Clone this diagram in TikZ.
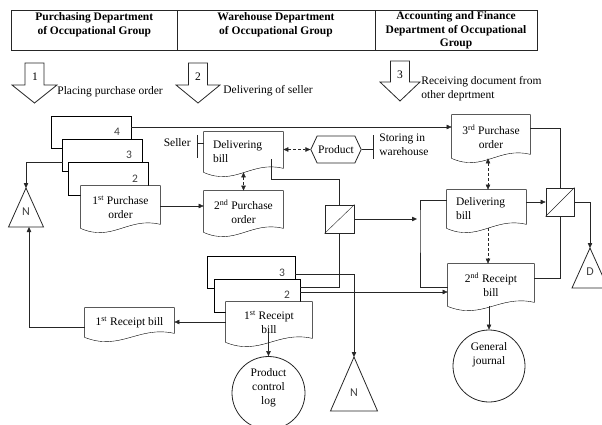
\documentclass[tikz,border=0pt]{standalone}
\usepackage{fontspec}
\setmainfont{Liberation Serif}
\newfontfamily\numfont{Carlito}
\usetikzlibrary{shapes.geometric,shapes.symbols,arrows.meta,calc}
\pgfdeclarelayer{bg}
\pgfsetlayers{bg,main}
\newcommand\docpath[1]{%
  \draw[fill=white] (#1.north west) -- (#1.north east) -- ($(#1.south east)+(0,-4)$)
   .. controls ($(#1.south west)!0.6!(#1.south east)+(0,-12)$) and ($(#1.south west)!0.4!(#1.south east)+(0,14)$) .. (#1.south west) -- cycle;}
\newcommand\boxpath[1]{\draw[fill=white] (#1.north west) rectangle (#1.south east);}
\begin{document}
\begin{tikzpicture}[x=1pt,y=-1pt,
  font=\fontsize{11.5}{14}\selectfont,
  line width=0.8pt, draw=black!85,
  dn/.style 2 args={inner sep=0pt, align=center, minimum width=#1, minimum height=#2},
  num/.style={font=\numfont\fontsize{11.5}{14}\selectfont, text=black!75, inner sep=0pt},
  tlet/.style={font=\numfont\fontsize{12}{14}\selectfont, text=black!75, inner sep=0pt},
  arr/.style={-{Triangle[length=5pt,width=4.5pt]}},
  dsh/.style={densely dashed, {Triangle[length=5pt,width=4.5pt]}-{Triangle[length=5pt,width=4.5pt]}},
  dsh1/.style={densely dashed, -{Triangle[length=5pt,width=4.5pt]}},
  coll/.style={draw, fill=white, inner sep=0pt},
  cell/.style={draw, inner sep=0pt, minimum height=39.4pt},
  hdr/.style={font=\bfseries\fontsize{11.5}{13.5}\selectfont, align=center, inner sep=0pt},
  lbl/.style={inner sep=0pt, align=left, anchor=west}
]
\useasboundingbox (0,0) rectangle (602,425);
\clip (0,0) rectangle (602,425);

% header table
\node[cell, minimum width=165.4pt] (col1) at (94.3,30.3) {};
\node[cell, minimum width=198pt] (col2) at (276,30.3) {};
\node[cell, minimum width=162pt] (col3) at (456,30.3) {};
\node[hdr] (h1) at (94.3,24.5) {Purchasing Department\\of Occupational Group};
\node[hdr] (h2) at (276,24.5) {Warehouse Department\\of Occupational Group};
\node[hdr] (h3) at (456,30.5) {Accounting and Finance\\Department of Occupational\\Group};

% block arrows
\draw (25,63) -- (44,63) -- (44,85) -- (57,85) -- (34.5,103) -- (12,85) -- (25,85) -- cycle;
\node[inner sep=0pt] (a1) at (35,77) {1};
\node[lbl] (l1) at (57,92) {Placing purchase order};
\draw (188.5,63) -- (207.5,63) -- (207.5,85) -- (220,85) -- (198,103) -- (176,85) -- (188.5,85) -- cycle;
\node[inner sep=0pt] (a2) at (198,77) {2};
\node[lbl] (l2) at (223,91) {Delivering of seller};
\draw (390.5,61) -- (409.5,61) -- (409.5,82) -- (420,82) -- (400,101) -- (380,82) -- (390.5,82) -- cycle;
\node[inner sep=0pt] (a3) at (400,75) {3};
\node[lbl] (l3) at (421,88.5) {Receiving document from\\other deprtment};

% purchase stack
\node[dn={79pt}{31pt}] (pb4) at (91.5,132.5) {};
\node[dn={79pt}{31pt}] (pb3) at (102.5,155.5) {};
\node[dn={79pt}{32pt}] (pb2) at (108.5,179) {};
\node[dn={79pt}{42pt}] (po1) at (120.5,207) {1\textsuperscript{st} Purchase\\order};
\node[num] (n4) at (117,132) {4};
\node[num] (n3) at (129,155) {3};
\node[num] (n2) at (135,179) {2};

% warehouse
\node[dn={79pt}{40pt}, text width=61pt, align=left] (db1) at (243.5,152) {Delivering\\bill};
\node[dn={79pt}{41pt}] (po2) at (243.5,211.5) {2\textsuperscript{nd} Purchase\\order};
\node[signal, signal to=west and east, signal pointer angle=130, draw, fill=white,
  minimum width=46pt, minimum height=27pt, inner xsep=1pt, inner ysep=0pt] (prod) at (336,149.5) {Product};
\node[inner sep=0pt, anchor=east] (seller) at (191,143) {Seller};
\coordinate (sbar) at (197,143);
\coordinate (wbar) at (373,149.5);
\node[lbl] (store) at (379,145) {Storing in\\warehouse};
\node[coll, minimum width=29pt, minimum height=28pt] (c1) at (339.5,219) {};

% receipt stack
\node[dn={87pt}{31pt}] (rs3) at (251.5,272.5) {};
\node[dn={85pt}{32pt}] (rs2) at (257.5,296) {};
\node[dn={86pt}{40pt}] (rb1) at (269,322) {1\textsuperscript{st} Receipt\\bill};
\node[num] (rn3) at (282,273) {3};
\node[num] (rn2) at (287,295) {2};
\node[dn={89pt}{29pt}] (rbs) at (129.5,322.5) {1\textsuperscript{st} Receipt bill};
\node[circle, draw, fill=white, minimum size=73pt, inner sep=0pt,
  label={[align=center, inner sep=0pt, yshift=5pt]center:Product\\control\\log}] (pcl) at (268.5,393) {};

% accounting
\node[dn={78pt}{43pt}] (po3) at (491,136.5) {3\textsuperscript{rd} Purchase\\order};
\node[dn={79pt}{38pt}, text width=61pt, align=left] (db2) at (486.5,209) {Delivering\\bill};
\node[dn={86pt}{42pt}] (rb2) at (491,285) {2\textsuperscript{nd} Receipt\\bill};
\node[coll, minimum width=28pt, minimum height=28pt] (c2) at (560,202) {};
\node[circle, draw, fill=white, minimum size=72pt, inner sep=0pt,
  label={[align=center, inner sep=0pt, yshift=11pt]center:General\\journal}] (gj) at (489,366) {};
\coordinate (brk) at (420,219);

% triangles
\coordinate (N1a) at (26,188);
\coordinate (N1b) at (29,227);
\coordinate (N2a) at (354,357);
\coordinate (Da) at (590,248);
\draw (N1a) -- ++(17.5,39) -- ++(-35,0) -- cycle;
\draw (N2a) -- ++(23.5,54) -- ++(-47,0) -- cycle;
\draw (Da) -- ++(18,40) -- ++(-36,0) -- cycle;
\node[tlet] (N1) at (26,212) {N};
\node[tlet] (N2) at (354,393) {N};
\node[tlet] (D) at (590,272) {D};

% outlines (background)
\begin{pgfonlayer}{bg}
\boxpath{pb4}
\boxpath{pb3}
\boxpath{pb2}
\docpath{po1}
\docpath{db1}
\docpath{po2}
\boxpath{rs3}
\boxpath{rs2}
\docpath{rb1}
\docpath{rbs}
\docpath{po3}
\docpath{db2}
\docpath{rb2}
\end{pgfonlayer}

% collate diagonals
\draw (c1.south west) -- (c1.north east);
\draw (c2.south west) -- (c2.north east);

% annotations
\draw ($(sbar)+(0,-8)$) -- ($(sbar)+(0,15)$);
\draw (sbar) -- (db1.west |- sbar);
\draw ($(wbar)+(0,-14)$) -- ($(wbar)+(0,9)$);
\draw (prod.east) -- (wbar);

% connectors
\draw[arr] (pb4.east |- 0,127) -- (po3.west |- 0,127);
\draw[arr] (pb3.west |- 0,162) -| (N1a);
\draw[arr] (po1.east |- 0,206) -- (po2.west |- 0,206);
\draw[dsh] (db1.east |- prod.west) -- (prod.west);
\draw[dsh] (db1.south) -- (po2.north);
\draw ($(db1.south east)+(-12,-13)$) -- ++(0,20) -| (c1.north);
\draw[arr] (c1.east) -- ($(brk)+(-3,0)$);
\draw (db2.west |- 0,200) -| (brk) |- (rb2.west |- 0,287);
\draw[arr] (rs3.east |- 0,274) -| (N2a);
\draw (rs2.east |- 0,287) -| (c1.south);
\draw[arr] (rs2.east |- 0,292) -- (rb2.west |- 0,292);
\draw[arr] (rb1.west |- 0,322) -- (rbs.east |- 0,322);
\draw[arr] (rbs.west |- 0,327) -| (N1b);
\draw[arr] (pcl.north |- 0,333) -- (pcl.north);
\draw (po3.east |- 0,128) -| (c2.north);
\draw[dsh] (po3.south -| 488,0) -- (db2.north -| 488,0);
\draw[dsh1] (db2.south -| 488,0) -- (rb2.north -| 488,0);
\draw[arr] (db2.east |- c2.west) -- (c2.west);
\draw (rb2.east |- 0,278) -| (c2.south);
\draw[arr] (c2.east) -| (Da);
\draw[arr] (gj.north |- rb2.south) -- (gj.north);
\end{tikzpicture}
\end{document}
